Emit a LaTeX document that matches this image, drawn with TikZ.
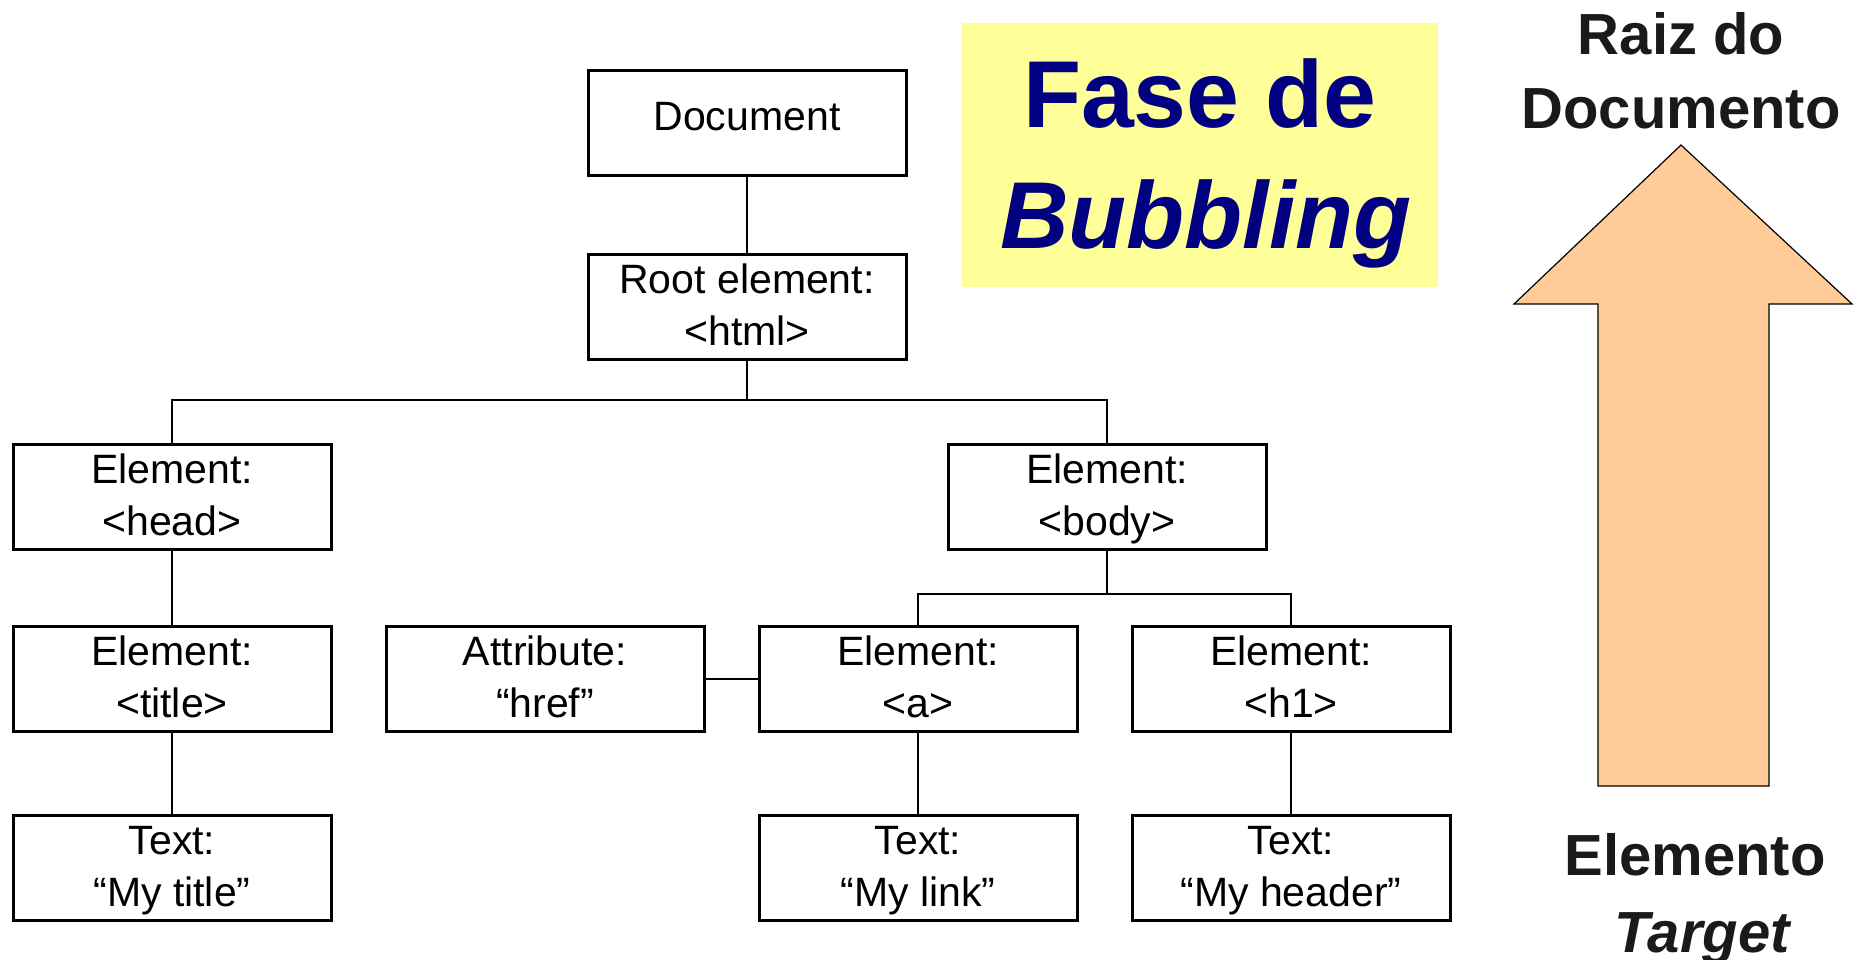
\documentclass[tikz,border=0pt]{standalone}
\usepackage{fontspec}
\setmainfont{Liberation Sans}
\definecolor{notebg}{HTML}{FFFF99}
\definecolor{notetext}{HTML}{000080}
\definecolor{arrowfill}{HTML}{FFCC99}
\definecolor{ink}{HTML}{1A1A1A}
\newcommand\boxfont{\fontsize{41}{52}\selectfont}
\newcommand\bigfont{\fontsize{58}{60}\selectfont\bfseries}
\begin{document}
\begin{tikzpicture}[x=1pt,y=-1pt,
  treebox/.style={draw, line width=3pt, minimum width=318pt, minimum height=105pt,
    inner sep=0pt, align=center, font=\boxfont, text depth=4pt},
  link/.style={line width=2.5pt},
  phasetext/.style={anchor=base, text=notetext, font=\fontsize{95}{100}\selectfont\bfseries},
  sidetext/.style={anchor=base, text=ink, font=\bigfont}]
\fill[white] (0,0) rectangle (1862,959);
\useasboundingbox (0,0) rectangle (1862,959);

% DOM tree
\node[treebox, text depth=14pt] (doc) at (747,123) {Document};
\node[treebox] (root) at (747,307) {Root element:\\<html>};
\node[treebox] (head) at (172,497) {Element:\\<head>};
\node[treebox] (body) at (1107,497) {Element:\\<body>};
\node[treebox] (title) at (172,679) {Element:\\<title>};
\node[treebox] (attr) at (545,679) {Attribute:\\“href”};
\node[treebox] (a) at (918,679) {Element:\\<a>};
\node[treebox] (h1) at (1291,679) {Element:\\<h1>};
\node[treebox] (mytitle) at (172,868) {Text:\\“My title”};
\node[treebox] (mylink) at (918,868) {Text:\\“My link”};
\node[treebox] (myheader) at (1291,868) {Text:\\“My header”};

\coordinate (bus1) at (747,400);
\coordinate (bus2) at (1107,594);

\draw[link] (doc.south) -- (root.north);
\draw[link] (root.south) -- (bus1);
\draw[link] (head.north) |- (bus1) -| (body.north);
\draw[link] (head.south) -- (title.north);
\draw[link] (title.south) -- (mytitle.north);
\draw[link] (body.south) -- (bus2);
\draw[link] (a.north) |- (bus2) -| (h1.north);
\draw[link] (attr.east) -- (a.west);
\draw[link] (a.south) -- (mylink.north);
\draw[link] (h1.south) -- (myheader.north);

% phase label
\fill[notebg] (962,23) rectangle (1438,287);
\node[phasetext] (fase) at (1200,127) {Fase de};
\node[phasetext] (bubbling) at (1206,248) {\itshape Bubbling};

% propagation arrow
\draw[fill=arrowfill, line width=1.2pt, line join=miter]
  (1681,145) -- (1852,304) -- (1769,304) -- (1769,786)
  -- (1598,786) -- (1598,304) -- (1514,304) -- cycle;
\node[sidetext] (raiz) at (1681,54) {Raiz do};
\node[sidetext] (docroot) at (1681,128) {Documento};
\node[sidetext] (elem) at (1695,875) {Elemento};
\node[sidetext] (target) at (1702,952) {\itshape Target};
\end{tikzpicture}
\end{document}
